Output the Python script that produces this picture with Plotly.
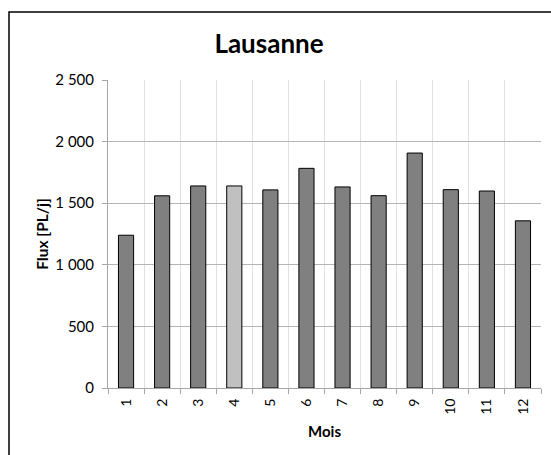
import plotly.graph_objects as go

months = ["1", "2", "3", "4", "5", "6", "7", "8", "9", "10", "11", "12"]
flux = [1240, 1560, 1640, 1640, 1608, 1783, 1632, 1561, 1907, 1610, 1599, 1357]
bar_colors = ["#808080"] * 3 + ["#c0c0c0"] + ["#808080"] * 8
y_ticks = [0, 500, 1000, 1500, 2000, 2500]

W, H = 551, 455
L, R, T, B = 108, 10, 80, 67
pw = W - L - R
ph = H - T - B

fig = go.Figure(go.Bar(
    x=months, y=flux,
    marker=dict(color=bar_colors, line=dict(color="#000000", width=1)),
    width=0.42,
))

fig.update_layout(
    width=W, height=H,
    margin=dict(l=L, r=R, t=T, b=B, autoexpand=False),
    paper_bgcolor="white", plot_bgcolor="white",
    font=dict(family="Lato, 'Open Sans', sans-serif", size=14, color="#000"),
    separators=", ",
    showlegend=False,
    title=dict(text="<b>Lausanne</b>", font=dict(size=26, color="#000"),
               x=(269 - L) / pw, xref="paper", xanchor="center",
               y=1 - 44 / H, yref="container", yanchor="middle"),
)

fig.update_xaxes(
    type="category", tickson="boundaries", ticks="outside", ticklen=5,
    tickcolor="#a6a6a6", tickangle=-90, automargin=False,
    ticklabelstandoff=4,
    showgrid=True, gridcolor="#e0e0e0", gridwidth=1,
    showline=True, linecolor="#a6a6a6", linewidth=1,
    title=dict(text="<b>Mois</b>", font=dict(size=15), standoff=12),
    tickfont=dict(size=14),
)
fig.update_yaxes(
    range=[0, 2500], tickvals=y_ticks, tickformat=",d", automargin=False,
    ticks="outside", ticklen=5, tickcolor="#a6a6a6",
    ticklabelstandoff=5,
    showgrid=True, gridcolor="#b4b4b4", gridwidth=1,
    showline=True, linecolor="#a6a6a6", linewidth=1,
    zeroline=False,
    title=dict(text="<b>Flux [PL/j]</b>", font=dict(size=15.5), standoff=2),
    tickfont=dict(size=15),
)

# outer chart frame (top/left visible; right/bottom run off the page like the reference)
fig.add_shape(type="rect", xref="paper", yref="paper",
              x0=(9 - L) / pw, x1=1.2, y0=-0.5, y1=1 + (T - 12) / ph,
              line=dict(color="#000", width=1.5), fillcolor="rgba(0,0,0,0)", layer="below")

fig.write_html("out.html", config={"displayModeBar": False},
               post_script="document.body.style.margin='0';")
